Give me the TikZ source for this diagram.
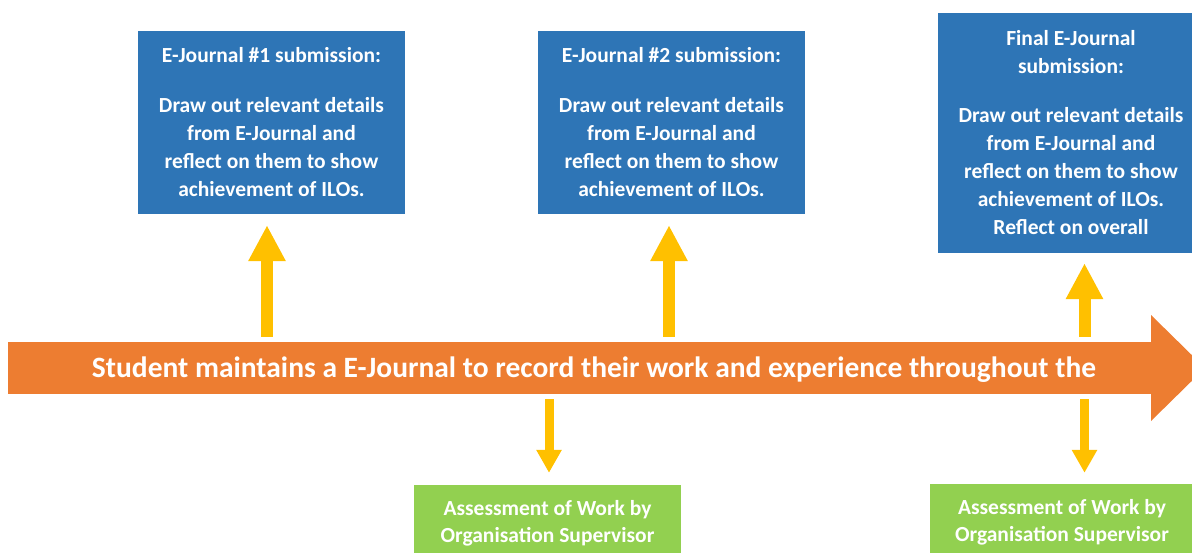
\documentclass[tikz,border=0pt]{standalone}
\usepackage{fontspec}
\setmainfont{Carlito}
\usetikzlibrary{arrows.meta,positioning}

\definecolor{jblue}{HTML}{2E75B6}
\definecolor{jorange}{HTML}{ED7D31}
\definecolor{jyellow}{HTML}{FFC000}
\definecolor{jgreen}{HTML}{92D050}

\begin{document}
\begin{tikzpicture}[x=1pt,y=-1pt,
  every node/.style={text=white, align=center, inner sep=0pt},
  subbox/.style={fill=jblue, minimum width=267pt, minimum height=183pt,
    font=\bfseries\fontsize{21.5}{28}\selectfont},
  assessbox/.style={fill=jgreen, minimum width=267pt, minimum height=77pt,
    font=\bfseries\fontsize{21.5}{27}\selectfont},
  upflow/.style={draw=jyellow, line width=12pt, -{Triangle[width=35pt,length=36pt]},
    shorten <=5pt},
  downflow/.style={draw=jyellow, line width=9pt, -{Triangle[width=24pt,length=23pt]},
    shorten <=5pt}]

\useasboundingbox (0,0) rectangle (1192,552);
\clip (0,0) rectangle (1192,552);

% timeline
\node[fill=jorange, minimum width=1144pt, minimum height=52pt] (line) at (580,368) {};
\fill[jorange] (1151,315) -- (1205,368) -- (1151,421) -- cycle;
\node[font=\bfseries\fontsize{29.5}{34}\selectfont] (linetext) at (594,370)
  {Student maintains a E-Journal to record their work and experience throughout the};

% submissions
\def \body {Draw out relevant details\\from E-Journal and\\reflect on them to show\\achievement of ILOs.}
\node[subbox] (sub1) at (271.5,122.5) {E-Journal \#1 submission:\\[22pt]\body};
\node[subbox] (sub2) at (671.5,122.5) {E-Journal \#2 submission:\\[22pt]\body};
\node[subbox, minimum width=266pt, minimum height=240pt] (sub3) at (1071,133)
  {Final E-Journal\\submission:\\[21pt]\body\\Reflect on overall};

% assessments
\node[assessbox] (ass1) at (547.5,523.5) {Assessment of Work by\\Organisation Supervisor};
\node[assessbox, minimum width=264pt, minimum height=76pt] (ass2) at (1062,522)
  {Assessment of Work by\\Organisation Supervisor};

% arrows
\coordinate (u1) at (267,0);
\coordinate (u2) at (669,0);
\coordinate (u3) at (1084.5,0);
\coordinate (d1) at (549,0);
\draw[upflow, shorten >=11pt] (line.north -| u1) -- (sub1.south -| u1);
\draw[upflow, shorten >=11pt] (line.north -| u2) -- (sub2.south -| u2);
\draw[upflow, shorten >=10pt] (line.north -| u3) -- (sub3.south -| u3);
\draw[downflow, shorten >=12pt] (line.south -| d1) -- (ass1.north -| d1);
\draw[downflow, shorten >=11pt] (line.south -| u3) -- (ass2.north -| u3);

\end{tikzpicture}
\end{document}
